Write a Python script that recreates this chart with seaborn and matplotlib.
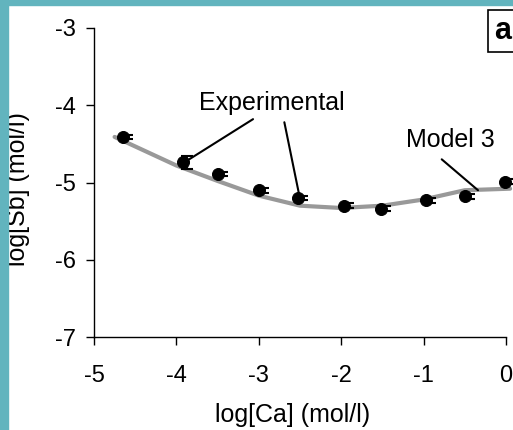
import matplotlib
matplotlib.use("Agg")
import matplotlib.pyplot as plt
from matplotlib.patches import Rectangle
import seaborn as sns
import pandas as pd
import numpy as np

# Experimental data
exp_logca = [-4.65, -3.92, -3.50, -3.00, -2.52, -1.97, -1.52, -0.97, -0.50, -0.01]
exp_logsb = [-4.41, -4.74, -4.89, -5.10, -5.20, -5.30, -5.34, -5.23, -5.18, -4.99]
exp_err = [0.03, 0.08, 0.03, 0.03, 0.03, 0.03, 0.03, 0.03, 0.03, 0.03]

# Model 3 curve
model_logca = [-4.75, -4.00, -3.50, -3.00, -2.50, -2.00, -1.50, -1.00, -0.50, 0.05]
model_logsb = [-4.41, -4.78, -4.98, -5.17, -5.30, -5.33, -5.30, -5.22, -5.10, -5.08]

xticks = [-5, -4, -3, -2, -1, 0]
yticks = [-7, -6, -5, -4, -3]

sns.set_style("ticks")
plt.rcParams['font.family'] = ['Liberation Sans', 'DejaVu Sans']
plt.rcParams['text.color'] = 'black'
plt.rcParams['axes.labelcolor'] = 'black'
plt.rcParams['xtick.color'] = 'black'
plt.rcParams['ytick.color'] = 'black'

fig = plt.figure(figsize=(5.13, 4.30), dpi=100)
fig.patch.set_facecolor("white")
# teal frame (left and top)
teal = "#62B4BE"
fig.patches.append(Rectangle((0, 0), 8/513, 1, transform=fig.transFigure, color=teal, zorder=0))
fig.patches.append(Rectangle((0, 1 - 5/430), 1, 5/430, transform=fig.transFigure, color=teal, zorder=0))

ax = fig.add_axes([94/513, 1 - 337/430, (506 - 94)/513, (337 - 28)/430])
ax.set_facecolor("white")

df_model = pd.DataFrame({"x": model_logca, "y": model_logsb})
df_exp = pd.DataFrame({"x": exp_logca, "y": exp_logsb})

sns.lineplot(data=df_model, x="x", y="y", ax=ax, color="#999999", linewidth=3, sort=False, zorder=2)
ax.errorbar(np.array(exp_logca) + 0.05, exp_logsb, yerr=exp_err, fmt="none",
            ecolor="black", elinewidth=1.2, capsize=4, capthick=1.5, zorder=3)
sns.scatterplot(data=df_exp, x="x", y="y", ax=ax, color="black", s=75, edgecolor="black", zorder=4)

ax.set_xlim(-5, 0)
ax.set_ylim(-7, -3)
ax.set_xticks(xticks)
ax.set_yticks(yticks)
ax.set_xticklabels([str(t) for t in xticks])
ax.set_yticklabels([str(t) for t in yticks])
ax.tick_params(axis="both", direction="out", length=6, width=1, labelsize=17, colors="black")
ax.tick_params(axis="x", pad=14)
ax.tick_params(axis="y", pad=7)
for s in ["top", "right"]:
    ax.spines[s].set_visible(False)
for s in ["left", "bottom"]:
    ax.spines[s].set_color("black")
    ax.spines[s].set_linewidth(1)

ax.set_xlabel("log[Ca] (mol/l)", fontsize=18, color="black")
ax.set_ylabel("log[Sb] (mol/l)", fontsize=18, color="black")
ax.xaxis.set_label_coords((293 - 94)/412, -(403 - 337)/309)
ax.yaxis.set_label_coords(-(94 - 30)/412, (337 - 189)/309)

# annotations
ax.text(-2.84, -3.97, "Experimental", fontsize=18, ha="center", va="center", color="black")
ax.annotate("", xy=(-3.86, -4.71), xytext=(-3.07, -4.18),
            arrowprops=dict(arrowstyle="-", color="black", lw=1.5, shrinkA=0, shrinkB=0))
ax.annotate("", xy=(-2.51, -5.16), xytext=(-2.69, -4.22),
            arrowprops=dict(arrowstyle="-", color="black", lw=1.5, shrinkA=0, shrinkB=0))
ax.text(-0.67, -4.45, "Model 3", fontsize=18, ha="center", va="center", color="black")
ax.annotate("", xy=(-0.34, -5.10), xytext=(-0.78, -4.70),
            arrowprops=dict(arrowstyle="-", color="black", lw=1.5, shrinkA=0, shrinkB=0))

for c in ax.get_children():
    try:
        c.set_clip_on(False)
    except Exception:
        pass

fig.text(511/513, 1 - 31/430, "a", fontsize=22, fontweight="bold", ha="right", va="center",
         color="black",
         bbox=dict(boxstyle="square,pad=0.2", facecolor="white", edgecolor="black", linewidth=1.2))

fig.savefig("out.png", dpi=100)
